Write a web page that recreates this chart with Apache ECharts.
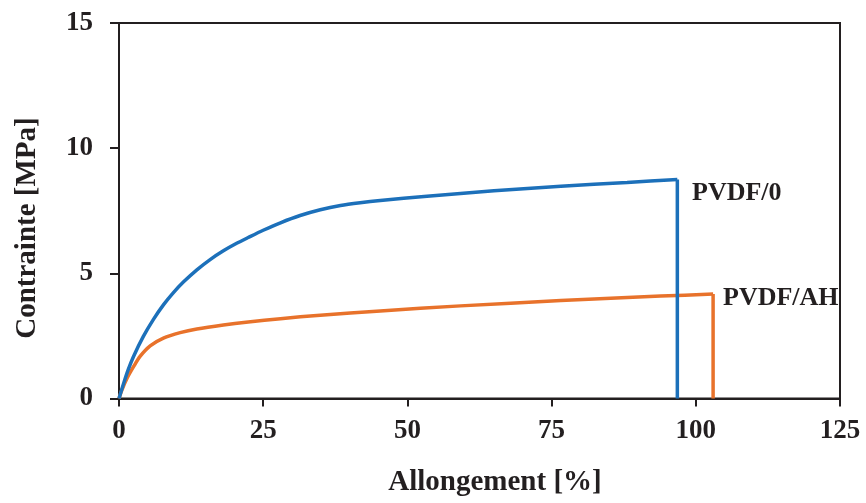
<!DOCTYPE html>
<html>
<head>
<meta charset="utf-8">
<script src="https://cdn.jsdelivr.net/npm/echarts@6/dist/echarts.min.js"></script>
<style>
html,body{margin:0;padding:0;background:#fff;}
#chart{width:866px;height:503px;}
</style>
</head>
<body>
<div id="chart"></div>
<script>
// Data
var strainPVDF0 = [0, 0.8, 1.6, 2.5, 4.2, 6.0, 7.7, 9.4, 11.2, 13.5, 15.8, 18.1, 20.4, 22.4, 25.0, 28.0, 31.4, 34.9, 38.4, 41.8, 45.3, 53.4, 65.0, 76.6, 88.1, 96.8, 96.8];
var stressPVDF0 = [0, 0.60, 1.15, 1.67, 2.47, 3.17, 3.74, 4.22, 4.66, 5.14, 5.55, 5.90, 6.20, 6.43, 6.72, 7.02, 7.31, 7.54, 7.71, 7.82, 7.91, 8.08, 8.30, 8.48, 8.63, 8.75, 0];
var strainAH = [0, 0.5, 1.4, 2.6, 3.65, 5.4, 7.7, 10.6, 13.5, 18.1, 22.4, 28.0, 34.9, 45.3, 59.2, 76.6, 93.9, 103.0, 103.0];
var stressAH = [0, 0.34, 0.81, 1.30, 1.68, 2.10, 2.41, 2.63, 2.78, 2.94, 3.06, 3.19, 3.33, 3.50, 3.70, 3.91, 4.09, 4.17, 0];
var xTicks = [0, 25, 50, 75, 100, 125];
var yTicks = [0, 5, 10, 15];
var seriesNames = ['PVDF/0', 'PVDF/AH'];
var xTitle = 'Allongement [%]';
var yTitle = 'Contrainte [MPa]';

function pairs(xs, ys, from, to) {
  var out = [];
  for (var i = from; i < to; i++) out.push([xs[i], ys[i]]);
  return out;
}
var blueCurve = pairs(strainPVDF0, stressPVDF0, 0, strainPVDF0.length - 1);
var blueDrop = pairs(strainPVDF0, stressPVDF0, strainPVDF0.length - 2, strainPVDF0.length);
var orangeCurve = pairs(strainAH, stressAH, 0, strainAH.length - 1);
var orangeDrop = pairs(strainAH, stressAH, strainAH.length - 2, strainAH.length);

var BLUE = '#1c70ba';
var ORANGE = '#e8722b';
var INK = '#231f20';
var FONT = '"Liberation Serif", "Times New Roman", serif';

var chart = echarts.init(document.getElementById('chart'), null, {renderer: 'canvas'});
chart.setOption({
  animation: false,
  backgroundColor: '#ffffff',
  grid: {left: 119, right: 26, top: 23, bottom: 104.5, show: true, borderColor: INK, borderWidth: 2, backgroundColor: 'transparent'},
  xAxis: {
    type: 'value', min: xTicks[0], max: xTicks[xTicks.length - 1], interval: 25,
    axisLine: {show: true, lineStyle: {color: INK, width: 2}},
    axisTick: {show: true, length: 8, lineStyle: {color: INK, width: 2}},
    axisLabel: {color: INK, fontFamily: FONT, fontWeight: 'bold', fontSize: 27, margin: 19},
    splitLine: {show: false}
  },
  yAxis: {
    type: 'value', min: yTicks[0], max: yTicks[yTicks.length - 1], interval: 5,
    axisLine: {show: true, lineStyle: {color: INK, width: 2}},
    axisTick: {show: true, length: 9, lineStyle: {color: INK, width: 2}},
    axisLabel: {color: INK, fontFamily: FONT, fontWeight: 'bold', fontSize: 27, margin: 26},
    splitLine: {show: false}
  },
  series: [
    {name: seriesNames[0], type: 'line', data: blueCurve, smooth: 0.25, showSymbol: false,
     lineStyle: {color: BLUE, width: 3.5}, z: 3},
    {name: seriesNames[0] + ' rupture', type: 'line', data: blueDrop, showSymbol: false,
     lineStyle: {color: BLUE, width: 3.5}, z: 3},
    {name: seriesNames[1], type: 'line', data: orangeCurve, smooth: 0.25, showSymbol: false,
     lineStyle: {color: ORANGE, width: 3.5}, z: 2},
    {name: seriesNames[1] + ' rupture', type: 'line', data: orangeDrop, showSymbol: false,
     lineStyle: {color: ORANGE, width: 3.5}, z: 2}
  ],
  graphic: [
    {type: 'text', left: 692, top: 180, style: {text: seriesNames[0], fill: INK, font: 'bold 26px ' + FONT}},
    {type: 'text', left: 723, top: 285, style: {text: seriesNames[1], fill: INK, font: 'bold 26px ' + FONT}},
    {type: 'text', x: 495, y: 483, style: {text: xTitle, fill: INK, font: 'bold 29px ' + FONT, textAlign: 'center', textVerticalAlign: 'middle'}},
    {type: 'text', x: 28, y: 228, rotation: Math.PI / 2, style: {text: yTitle, fill: INK, font: 'bold 29px ' + FONT, textAlign: 'center', textVerticalAlign: 'middle'}}
  ]
});
</script>
</body>
</html>
